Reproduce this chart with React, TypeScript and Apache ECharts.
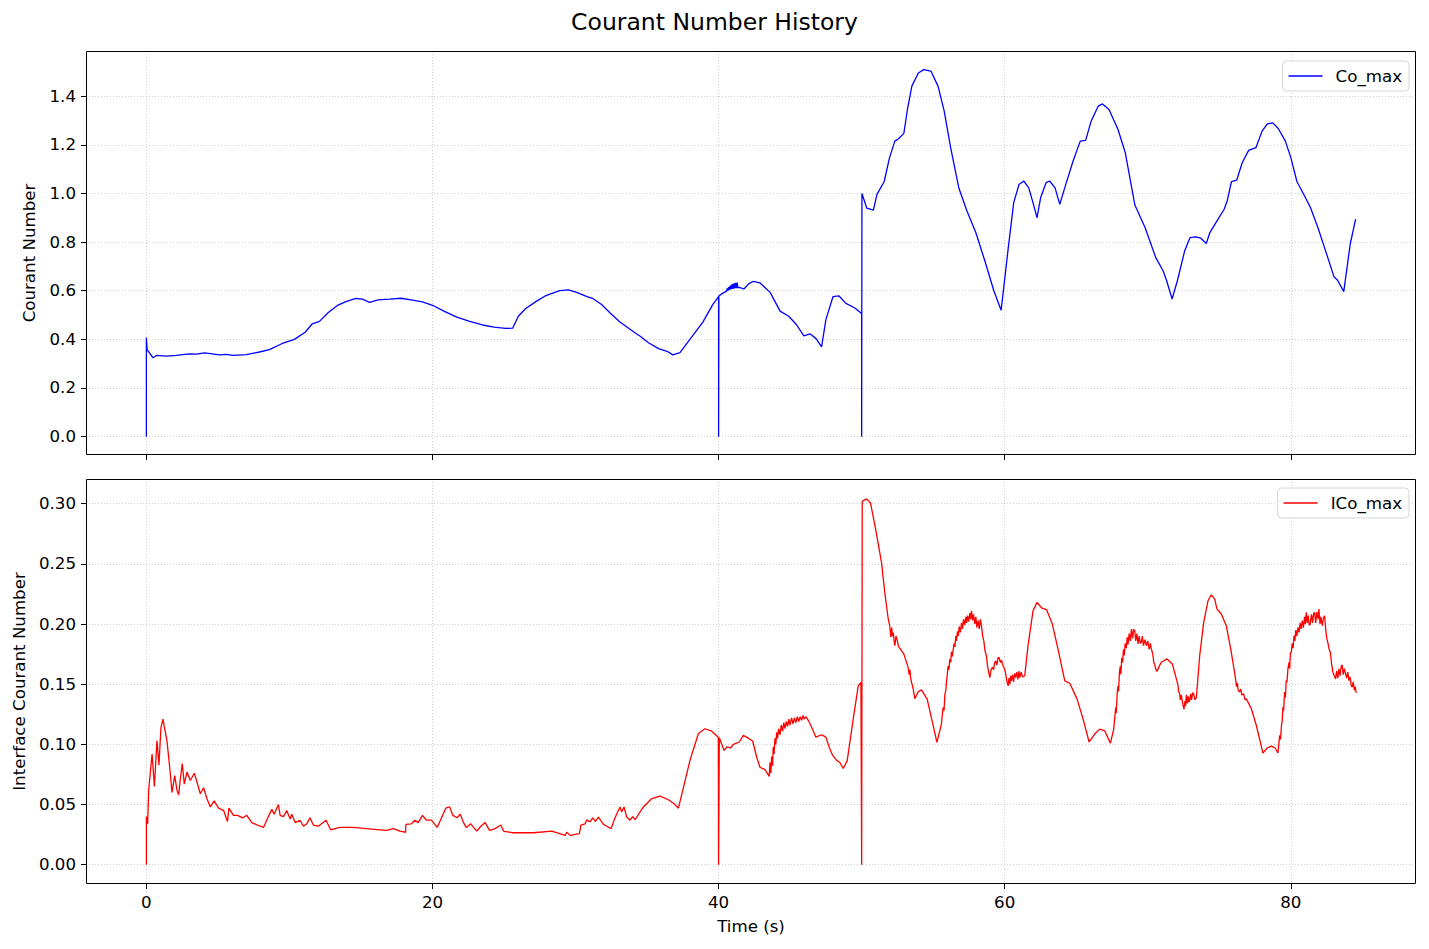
import React, { useEffect, useRef } from "react";
import * as echarts from "echarts";

const TITLE = "Courant Number History";
const X_TICKS = [0, 20, 40, 60, 80];
const CO_TICKS = [0, 0.2, 0.4, 0.6, 0.8, 1.0, 1.2, 1.4];
const ICO_TICKS = [0, 0.05, 0.1, 0.15, 0.2, 0.25, 0.3];

const coMax: [number, number][] = [
  [0, 0], [0, 0.407], [0.05, 0.358], [0.47, 0.324], [0.7, 0.334], [1.4, 0.331], [2.1, 0.334], [3.0, 0.34], [3.5, 0.339],
  [4.07, 0.344], [4.6, 0.34], [5.1, 0.336], [5.6, 0.338], [6.05, 0.334], [7.0, 0.337], [7.9, 0.348], [8.6, 0.358],
  [9.5, 0.383], [10.35, 0.4], [11.1, 0.429], [11.6, 0.464], [12.1, 0.474], [12.7, 0.509], [13.4, 0.541], [13.95, 0.555],
  [14.65, 0.568], [15.1, 0.565], [15.6, 0.552], [16.2, 0.562], [17.0, 0.565], [17.8, 0.569], [18.6, 0.561], [19.3, 0.554],
  [20.0, 0.54], [20.8, 0.516], [21.7, 0.491], [22.6, 0.474], [23.5, 0.459], [24.3, 0.45], [25.1, 0.445], [25.6, 0.446],
  [26.0, 0.495], [26.5, 0.526], [27.2, 0.554], [27.9, 0.579], [28.2, 0.586], [28.9, 0.6], [29.5, 0.603], [30.08, 0.593],
  [30.8, 0.576], [31.2, 0.568], [31.8, 0.544], [32.4, 0.509], [33.1, 0.471], [34.2, 0.425], [34.5, 0.414], [35.1, 0.386],
  [35.8, 0.362], [36.4, 0.351], [36.8, 0.336], [37.3, 0.345], [38.1, 0.408], [38.9, 0.471], [39.6, 0.544], [40.0, 0.576],
  [40.0, 0], [40.02, 0.578], [40.3, 0.59], [40.56, 0.598], [40.6, 0.61], [40.65, 0.6], [40.7, 0.615], [40.75, 0.603],
  [40.8, 0.62], [40.85, 0.605], [40.9, 0.625], [40.95, 0.607], [41.0, 0.628], [41.05, 0.608], [41.1, 0.63], [41.15, 0.61],
  [41.2, 0.632], [41.25, 0.61], [41.3, 0.633], [41.35, 0.612], [41.44, 0.614], [41.77, 0.607], [42.1, 0.628], [42.4, 0.638],
  [42.9, 0.632], [43.6, 0.593], [44.3, 0.516], [44.9, 0.495], [45.45, 0.46], [45.96, 0.414], [46.4, 0.422], [46.8, 0.404],
  [47.2, 0.369], [47.5, 0.481], [48.0, 0.576], [48.4, 0.579], [48.9, 0.548], [49.5, 0.53], [50.0, 0.506], [50.0, 0],
  [50.02, 1.0], [50.36, 0.939], [50.82, 0.931], [51.07, 0.996], [51.57, 1.048], [51.95, 1.147], [52.32, 1.215],
  [52.58, 1.225], [52.95, 1.247], [53.2, 1.345], [53.51, 1.441], [53.96, 1.495], [54.34, 1.509], [54.84, 1.503],
  [55.34, 1.441], [55.77, 1.338], [56.22, 1.188], [56.8, 1.021], [57.36, 0.928], [57.98, 0.839], [58.61, 0.723],
  [59.24, 0.6], [59.75, 0.52], [60.25, 0.777], [60.63, 0.962], [61.0, 1.037], [61.33, 1.051], [61.68, 1.023],
  [62.01, 0.955], [62.26, 0.9], [62.51, 0.982], [62.89, 1.044], [63.14, 1.051], [63.52, 1.023], [63.85, 0.955],
  [64.27, 1.037], [64.78, 1.133], [65.28, 1.215], [65.66, 1.218], [66.04, 1.297], [66.54, 1.359], [66.84, 1.368],
  [67.29, 1.345], [67.92, 1.263], [68.43, 1.167], [69.1, 0.952], [69.81, 0.86], [70.56, 0.736], [71.07, 0.682],
  [71.32, 0.641], [71.7, 0.566], [72.07, 0.641], [72.58, 0.764], [72.95, 0.818], [73.33, 0.821], [73.71, 0.816],
  [74.09, 0.794], [74.34, 0.839], [74.84, 0.887], [75.34, 0.935], [75.55, 0.969], [75.85, 1.048], [76.22, 1.055],
  [76.6, 1.126], [77.05, 1.177], [77.56, 1.188], [77.99, 1.256], [78.36, 1.286], [78.74, 1.29], [79.12, 1.267],
  [79.62, 1.215], [80.0, 1.147], [80.43, 1.048], [81.0, 0.985], [81.38, 0.941], [81.89, 0.86], [82.39, 0.771],
  [83.02, 0.657], [83.27, 0.643], [83.7, 0.596], [84.15, 0.791], [84.53, 0.894],
];

const icoMax: [number, number][] = [
  [0, 0], [0.0, 0.04], [0.09, 0.034], [0.16, 0.062], [0.4, 0.092], [0.56, 0.065], [0.74, 0.103], [0.88, 0.083],
  [1.02, 0.114], [1.16, 0.121], [1.28, 0.113], [1.44, 0.103], [1.63, 0.081], [1.79, 0.06], [1.98, 0.074], [2.14, 0.062],
  [2.26, 0.058], [2.37, 0.071], [2.51, 0.084], [2.65, 0.067], [2.84, 0.077], [3.07, 0.07], [3.35, 0.076], [3.58, 0.067],
  [3.77, 0.059], [4.0, 0.064], [4.23, 0.055], [4.47, 0.048], [4.74, 0.053], [5.05, 0.047], [5.4, 0.045], [5.67, 0.036],
  [5.77, 0.047], [6.09, 0.041], [6.37, 0.041], [6.74, 0.039], [7.02, 0.041], [7.37, 0.035], [7.95, 0.032], [8.19, 0.031],
  [8.53, 0.04], [8.77, 0.046], [8.93, 0.042], [9.23, 0.05], [9.35, 0.041], [9.58, 0.04], [9.81, 0.045], [10.05, 0.038],
  [10.16, 0.042], [10.4, 0.035], [10.74, 0.037], [10.98, 0.032], [11.21, 0.034], [11.44, 0.039], [11.67, 0.033],
  [12.02, 0.032], [12.56, 0.037], [12.88, 0.029], [13.53, 0.031], [14.47, 0.031], [15.4, 0.03], [16.33, 0.029],
  [16.79, 0.0285], [17.26, 0.03], [17.72, 0.028], [18.12, 0.027], [18.14, 0.0335], [18.53, 0.034], [18.77, 0.037],
  [19.0, 0.035], [19.3, 0.041], [19.58, 0.037], [19.93, 0.037], [20.33, 0.031], [20.93, 0.047], [21.2, 0.048],
  [21.43, 0.041], [21.71, 0.039], [21.94, 0.042], [22.17, 0.035], [22.36, 0.031], [22.68, 0.034], [22.87, 0.031],
  [23.1, 0.028], [23.38, 0.032], [23.68, 0.035], [23.99, 0.0285], [24.38, 0.03], [24.78, 0.033], [24.96, 0.028],
  [25.55, 0.0266], [27.06, 0.0266], [28.34, 0.028], [29.27, 0.0244], [29.39, 0.027], [29.62, 0.0244], [30.27, 0.0258],
  [30.37, 0.033], [30.67, 0.034], [30.79, 0.0374], [31.02, 0.0355], [31.2, 0.039], [31.39, 0.036], [31.6, 0.0396],
  [31.95, 0.0335], [32.18, 0.032], [32.49, 0.03], [32.76, 0.039], [33.11, 0.048], [33.23, 0.044], [33.39, 0.048],
  [33.58, 0.0396], [33.81, 0.037], [34.0, 0.04], [34.16, 0.0374], [34.74, 0.048], [35.33, 0.055], [35.91, 0.057],
  [36.49, 0.054], [36.89, 0.0507], [37.19, 0.047], [37.54, 0.064], [38.0, 0.0867], [38.59, 0.109], [39.05, 0.113],
  [39.52, 0.111], [39.98, 0.106], [40.0, 0], [40.05, 0.1055], [40.38, 0.095], [40.61, 0.098], [40.84, 0.097],
  [41.03, 0.1], [41.45, 0.102], [41.73, 0.1075], [41.96, 0.106], [42.38, 0.1028], [42.66, 0.0895], [42.89, 0.081],
  [43.24, 0.079], [43.54, 0.0734], [43.59, 0.085], [43.65, 0.076], [43.71, 0.09], [43.77, 0.082], [43.82, 0.098],
  [43.88, 0.092], [43.94, 0.105], [44.0, 0.1], [44.06, 0.11], [44.12, 0.105], [44.2, 0.113], [44.29, 0.108],
  [44.38, 0.116], [44.47, 0.111], [44.56, 0.118], [44.64, 0.113], [44.73, 0.119], [44.82, 0.115], [44.91, 0.121],
  [44.99, 0.116], [45.1, 0.122], [45.2, 0.117], [45.3, 0.122], [45.4, 0.118], [45.5, 0.123], [45.6, 0.119],
  [45.7, 0.123], [45.8, 0.12], [45.9, 0.124], [45.97, 0.121], [46.1, 0.123], [46.27, 0.12], [46.5, 0.1144],
  [46.8, 0.106], [47.2, 0.108], [47.5, 0.106], [47.75, 0.097], [47.97, 0.091], [48.1, 0.089], [48.25, 0.0867],
  [48.48, 0.085], [48.71, 0.08], [48.99, 0.0865], [49.41, 0.121], [49.76, 0.1486], [49.95, 0.1514], [50.0, 0],
  [50.04, 0.302], [50.34, 0.304], [50.62, 0.3005], [50.99, 0.278], [51.39, 0.251], [51.62, 0.226], [51.86, 0.204],
  [51.97, 0.198], [52.04, 0.189], [52.1, 0.197], [52.16, 0.19], [52.21, 0.193], [52.27, 0.186], [52.32, 0.182],
  [52.4, 0.19], [52.48, 0.187], [52.58, 0.181], [52.67, 0.18], [52.95, 0.175], [53.25, 0.164], [53.32, 0.158],
  [53.38, 0.162], [53.42, 0.1555], [53.5, 0.151], [53.56, 0.1486], [53.72, 0.138], [53.95, 0.1436], [54.18, 0.1453],
  [54.58, 0.1376], [55.0, 0.1155], [55.26, 0.1017], [55.58, 0.117], [55.64, 0.125], [55.7, 0.1307], [55.76, 0.128],
  [55.82, 0.142], [55.88, 0.1445], [55.93, 0.152], [55.98, 0.157], [56.04, 0.165], [56.1, 0.162], [56.16, 0.171],
  [56.22, 0.168], [56.28, 0.177], [56.34, 0.173], [56.4, 0.179], [56.46, 0.184], [56.52, 0.181], [56.58, 0.19],
  [56.63, 0.186], [56.7, 0.194], [56.76, 0.19], [56.82, 0.198], [56.9, 0.193], [56.98, 0.201], [57.05, 0.196],
  [57.12, 0.204], [57.2, 0.199], [57.28, 0.206], [57.33, 0.201], [57.4, 0.207], [57.48, 0.202], [57.56, 0.209],
  [57.62, 0.204], [57.68, 0.211], [57.75, 0.203], [57.82, 0.208], [57.91, 0.2], [57.98, 0.206], [58.06, 0.197],
  [58.14, 0.203], [58.22, 0.196], [58.3, 0.204], [58.38, 0.198], [58.46, 0.19], [58.54, 0.186], [58.62, 0.178],
  [58.72, 0.1735], [58.8, 0.165], [58.88, 0.16], [58.96, 0.1555], [59.05, 0.162], [59.14, 0.164], [59.22, 0.162],
  [59.3, 0.168], [59.38, 0.1693], [59.46, 0.166], [59.53, 0.172], [59.61, 0.172], [59.7, 0.168], [59.78, 0.17],
  [59.84, 0.1666], [60.0, 0.1624], [60.08, 0.158], [60.16, 0.152], [60.24, 0.1486], [60.3, 0.155], [60.36, 0.15],
  [60.42, 0.157], [60.47, 0.1528], [60.55, 0.158], [60.62, 0.152], [60.7, 0.159], [60.77, 0.1555], [60.85, 0.16],
  [60.92, 0.154], [61.0, 0.161], [61.05, 0.1555], [61.15, 0.16], [61.25, 0.156], [61.4, 0.157], [61.63, 0.182],
  [61.98, 0.211], [62.26, 0.218], [62.57, 0.2135], [62.92, 0.212], [63.33, 0.2], [63.73, 0.179], [64.2, 0.1528],
  [64.55, 0.1508], [65.06, 0.1376], [65.48, 0.121], [65.9, 0.102], [66.29, 0.1086], [66.64, 0.1127], [66.99, 0.1113],
  [67.39, 0.101], [67.62, 0.1127], [67.76, 0.1307], [67.8, 0.126], [67.86, 0.142], [67.92, 0.1486], [67.96, 0.144],
  [68.02, 0.16], [68.08, 0.165], [68.12, 0.158], [68.18, 0.172], [68.24, 0.168], [68.3, 0.179], [68.36, 0.174],
  [68.42, 0.184], [68.5, 0.18], [68.56, 0.189], [68.62, 0.183], [68.7, 0.192], [68.78, 0.186], [68.86, 0.1959],
  [68.94, 0.188], [69.01, 0.1956], [69.09, 0.1945], [69.16, 0.186], [69.24, 0.192], [69.32, 0.1834], [69.4, 0.19],
  [69.48, 0.184], [69.55, 0.1848], [69.62, 0.19], [69.7, 0.182], [69.8, 0.187], [69.9, 0.182], [70.0, 0.186],
  [70.1, 0.179], [70.18, 0.184], [70.25, 0.1793], [70.35, 0.175], [70.42, 0.168], [70.48, 0.1668], [70.55, 0.163],
  [70.65, 0.1605], [70.8, 0.165], [70.95, 0.1682], [71.35, 0.171], [71.72, 0.1668], [72.0, 0.1544], [72.1, 0.15],
  [72.16, 0.144], [72.23, 0.142], [72.28, 0.137], [72.34, 0.141], [72.42, 0.1356], [72.48, 0.132], [72.53, 0.129],
  [72.6, 0.136], [72.64, 0.132], [72.7, 0.1412], [72.76, 0.134], [72.82, 0.14], [72.88, 0.135], [72.93, 0.1365],
  [73.0, 0.142], [73.06, 0.137], [73.14, 0.143], [73.21, 0.142], [73.3, 0.137], [73.4, 0.1392], [73.63, 0.1738],
  [73.91, 0.2014], [74.21, 0.2193], [74.44, 0.2243], [74.68, 0.2207], [74.84, 0.2124], [75.14, 0.2083],
  [75.49, 0.1986], [75.84, 0.1765], [76.14, 0.1544], [76.2, 0.148], [76.26, 0.151], [76.32, 0.145], [76.42, 0.1434],
  [76.5, 0.146], [76.58, 0.141], [76.7, 0.142], [76.8, 0.137], [76.89, 0.1378], [77.24, 0.1296], [77.59, 0.1157],
  [78.05, 0.0928], [78.35, 0.097], [78.63, 0.0986], [78.9, 0.097], [79.1, 0.0928], [79.16, 0.1], [79.22, 0.1075],
  [79.28, 0.104], [79.34, 0.115], [79.4, 0.12], [79.45, 0.131], [79.5, 0.128], [79.56, 0.1434], [79.62, 0.139],
  [79.68, 0.153], [79.73, 0.1517], [79.8, 0.163], [79.87, 0.1682], [79.92, 0.163], [79.97, 0.176], [80.03, 0.1765],
  [80.1, 0.184], [80.16, 0.18], [80.22, 0.1903], [80.28, 0.186], [80.35, 0.195], [80.42, 0.19], [80.5, 0.1972],
  [80.58, 0.193], [80.65, 0.201], [80.72, 0.196], [80.8, 0.2028], [80.88, 0.197], [80.96, 0.206], [81.02, 0.2],
  [81.08, 0.2097], [81.15, 0.201], [81.22, 0.207], [81.29, 0.199], [81.36, 0.2], [81.44, 0.208], [81.52, 0.201],
  [81.6, 0.209], [81.66, 0.2097], [81.74, 0.201], [81.82, 0.21], [81.9, 0.204], [81.96, 0.2124], [82.04, 0.2],
  [82.1, 0.206], [82.2, 0.1986], [82.28, 0.205], [82.36, 0.2069], [82.44, 0.195], [82.52, 0.1876], [82.6, 0.184],
  [82.68, 0.179], [82.76, 0.1765], [82.84, 0.168], [82.94, 0.16], [83.04, 0.157], [83.13, 0.1544], [83.2, 0.161],
  [83.28, 0.155], [83.36, 0.1627], [83.44, 0.157], [83.52, 0.165], [83.59, 0.166], [83.66, 0.158], [83.74, 0.163],
  [83.83, 0.1586], [83.9, 0.155], [83.98, 0.16], [84.06, 0.153], [84.14, 0.156], [84.22, 0.149], [84.29, 0.1475],
  [84.36, 0.152], [84.44, 0.145], [84.5, 0.148], [84.57, 0.1428],
];

const FONT = "DejaVu Sans";
const FS = 16.67;

export default function App() {
  const ref = useRef<HTMLDivElement>(null);
  useEffect(() => {
    if (!ref.current) return;
    const chart = echarts.init(ref.current, null, { renderer: "svg" });
    const splitLine = {
      show: true,
      lineStyle: { color: "#b0b0b0", opacity: 0.75, width: 0.8, type: [1, 2] as any },
    };
    const axisLine = { show: false, onZero: false };
    const tick = (vals: number[]) => ({
      show: true,
      inside: false,
      length: 5,
      customValues: vals,
      lineStyle: { color: "#000", width: 1 },
    });
    const label = (vals: number[], fmt: (v: number) => string, show = true) => ({
      show,
      customValues: vals,
      formatter: fmt,
      color: "#000",
      fontFamily: FONT,
      fontSize: FS,
      margin: 10,
    });
    const legendBase = {
      orient: "horizontal",
      right: 20,
      icon: "rect",
      itemWidth: 34,
      itemHeight: 1.3,
      padding: [6, 7, 6, 6],
      borderColor: "#d6d6d6",
      borderWidth: 1,
      borderRadius: 4,
      backgroundColor: "rgba(255,255,255,0.8)",
      textStyle: { fontFamily: FONT, fontSize: FS, color: "#000", padding: [0, 0, 0, 8], lineHeight: 18 },
    };
    const xBase = {
      type: "value",
      min: -4.22,
      max: 88.75,
      minInterval: 20,
      maxInterval: 20,
      axisLine,
      splitLine,
    };
    const option: any = {
      animation: false,
      backgroundColor: "#fff",
      textStyle: { fontFamily: FONT },
      title: {
        text: TITLE,
        left: "center",
        top: 5,
        textStyle: { fontFamily: FONT, fontSize: 23.5, fontWeight: "normal", color: "#000" },
      },
      legend: [
        { ...legendBase, top: 61, data: ["Co_max"] },
        { ...legendBase, top: 488, data: ["ICo_max"] },
      ],
      grid: [
        { left: 86, top: 51, width: 1330, height: 404 },
        { left: 86, top: 479, width: 1330, height: 405 },
      ],
      xAxis: [
        { ...xBase, gridIndex: 0, axisTick: tick(X_TICKS), axisLabel: label(X_TICKS, (v) => String(Math.round(v)), false) },
        {
          ...xBase,
          gridIndex: 1,
          axisTick: tick(X_TICKS),
          axisLabel: label(X_TICKS, (v) => String(Math.round(v))),
          name: "Time (s)",
          nameLocation: "middle",
          nameGap: 34,
          nameTextStyle: { fontFamily: FONT, fontSize: FS, color: "#000" },
        },
      ],
      yAxis: [
        {
          type: "value",
          gridIndex: 0,
          min: -0.0755,
          max: 1.5855,
          minInterval: 0.2,
          maxInterval: 0.2,
          axisLine,
          axisTick: tick(CO_TICKS),
          axisLabel: label(CO_TICKS, (v) => v.toFixed(1)),
          splitLine,
          name: "Courant Number",
          nameLocation: "middle",
          nameGap: 48,
          nameTextStyle: { fontFamily: FONT, fontSize: FS, color: "#000" },
        },
        {
          type: "value",
          gridIndex: 1,
          min: -0.016,
          max: 0.3205,
          minInterval: 0.05,
          maxInterval: 0.05,
          axisLine,
          axisTick: tick(ICO_TICKS),
          axisLabel: label(ICO_TICKS, (v) => v.toFixed(2)),
          splitLine,
          name: "Interface Courant Number",
          nameLocation: "middle",
          nameGap: 57,
          nameTextStyle: { fontFamily: FONT, fontSize: FS, color: "#000" },
        },
      ],
      series: [
        {
          name: "Co_max",
          type: "line",
          xAxisIndex: 0,
          yAxisIndex: 0,
          data: coMax,
          symbol: "none",
          lineStyle: { color: "#0000ff", width: 1.3 },
          itemStyle: { color: "#0000ff" },
          z: 5,
        },
        {
          name: "ICo_max",
          type: "line",
          xAxisIndex: 1,
          yAxisIndex: 1,
          data: icoMax,
          symbol: "none",
          lineStyle: { color: "#ff0000", width: 1.3 },
          itemStyle: { color: "#ff0000" },
          z: 5,
        },
      ],
      graphic: [
        {
          type: "rect",
          silent: true,
          z: 100,
          shape: { x: 86.5, y: 51.5, width: 1329, height: 403 },
          style: { fill: "none", stroke: "#000", lineWidth: 1 },
        },
        {
          type: "rect",
          silent: true,
          z: 100,
          shape: { x: 86.5, y: 479.5, width: 1329, height: 404 },
          style: { fill: "none", stroke: "#000", lineWidth: 1 },
        },
      ],
    };
    chart.setOption(option);
    return () => chart.dispose();
  }, []);
  return (
    <div
      ref={ref}
      style={{ position: "absolute", left: 0, top: 0, width: 1429, height: 949, background: "#fff" }}
    />
  );
}
